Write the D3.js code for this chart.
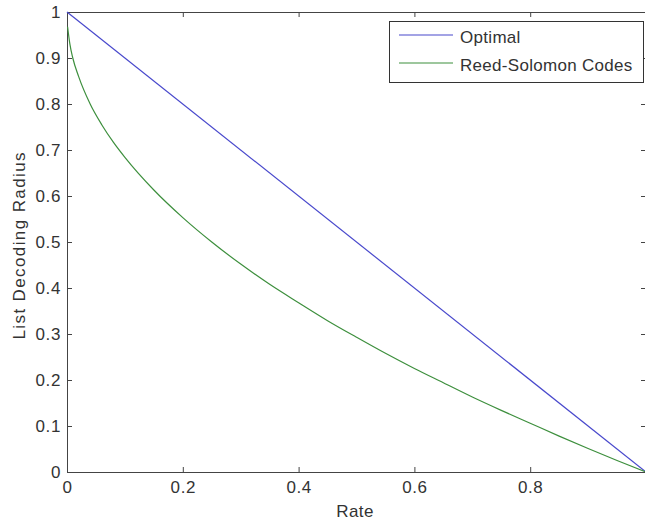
<!DOCTYPE html>
<html>
<head>
<meta charset="utf-8">
<script src="https://cdn.jsdelivr.net/npm/d3@7.9.0/dist/d3.min.js"></script>
<style>
  body { margin: 0; background: #fff; }
  svg { display: block; font-family: "Liberation Sans", Arial, sans-serif; }
</style>
</head>
<body>
<svg id="chart" width="645" height="521"></svg>
<script>
// --- data ---
const seriesNames = ['Optimal', 'Reed-Solomon Codes'];
const optimalRate = [0, 1];
const optimalRadius = [1, 0];
const rsRate = [0.001, 0.005, 0.01, 0.02, 0.04, 0.06, 0.08, 0.1, 0.15, 0.2, 0.25, 0.3, 0.35,
  0.4, 0.45, 0.5, 0.55, 0.6, 0.65, 0.7, 0.75, 0.8, 0.85, 0.9, 0.95, 1.0];
const rsRadius = [0.968, 0.93, 0.90, 0.86, 0.80, 0.755, 0.717, 0.684, 0.613, 0.553, 0.50, 0.452, 0.408,
  0.368, 0.329, 0.293, 0.258, 0.225, 0.194, 0.163, 0.134, 0.106, 0.078, 0.051, 0.025, 0];
const xTicks = [0, 0.2, 0.4, 0.6, 0.8];
const yTicks = [0, 0.1, 0.2, 0.3, 0.4, 0.5, 0.6, 0.7, 0.8, 0.9, 1];

const colors = ['#4848cc', '#3d8f3d'];
const margin = { left: 67, right: 646, top: 12, bottom: 472 };

const svg = d3.select('#chart');
const x = d3.scaleLinear().domain([0, 1]).range([margin.left, margin.right]);
const y = d3.scaleLinear().domain([0, 1]).range([margin.bottom, margin.top]);

// --- axes (MATLAB style, ticks inward, box on) ---
const tickLen = 5;
const axisColor = '#444';
const textColor = '#333';
const fontSize = 17;

function styleTicks(g) {
  g.select('.domain').attr('stroke', axisColor);
  g.selectAll('line').attr('stroke', axisColor);
  g.selectAll('text')
    .attr('font-size', fontSize)
    .attr('fill', textColor)
    .attr('letter-spacing', 0.6)
    .attr('font-family', '"Liberation Sans", Arial, sans-serif');
}

svg.append('g')
  .attr('transform', `translate(0,${margin.bottom})`)
  .call(d3.axisBottom(x).tickValues(xTicks).tickSizeInner(-tickLen).tickSizeOuter(0)
    .tickPadding(9).tickFormat(d3.format('')))
  .call(styleTicks);

svg.append('g')
  .attr('transform', `translate(${margin.left},0)`)
  .call(d3.axisLeft(y).tickValues(yTicks).tickSizeInner(-tickLen).tickSizeOuter(0)
    .tickPadding(6).tickFormat(d3.format('')))
  .call(styleTicks);

svg.append('g')
  .attr('transform', `translate(0,${margin.top})`)
  .call(d3.axisTop(x).tickValues(xTicks).tickSizeInner(-tickLen).tickSizeOuter(0).tickFormat(''))
  .call(styleTicks);

svg.append('g')
  .attr('transform', `translate(${margin.right},0)`)
  .call(d3.axisRight(y).tickValues(yTicks).tickSizeInner(-tickLen).tickSizeOuter(0).tickFormat(''))
  .call(styleTicks);

// --- axis titles ---
svg.append('text')
  .attr('x', 355)
  .attr('y', 517)
  .attr('text-anchor', 'middle')
  .attr('font-size', fontSize)
  .attr('letter-spacing', 0.4)
  .attr('fill', textColor)
  .text('Rate');

svg.append('text')
  .attr('transform', 'translate(25,246) rotate(-90)')
  .attr('text-anchor', 'middle')
  .attr('font-size', fontSize)
  .attr('fill', textColor)
  .attr('textLength', 187)
  .attr('lengthAdjust', 'spacing')
  .text('List Decoding Radius');

// --- lines ---
const optimal = optimalRate.map((r, i) => [r, optimalRadius[i]]);
const rs = rsRate.map((r, i) => [r, rsRadius[i]]);

const line = d3.line().x(d => x(d[0])).y(d => y(d[1])).curve(d3.curveMonotoneX);

svg.append('path')
  .datum(optimal)
  .attr('d', line)
  .attr('fill', 'none')
  .attr('stroke', colors[0])
  .attr('stroke-width', 1.2);

svg.append('path')
  .datum(rs)
  .attr('d', line)
  .attr('fill', 'none')
  .attr('stroke', colors[1])
  .attr('stroke-width', 1.2);

// --- legend ---
const legend = svg.append('g');
legend.append('rect')
  .attr('x', 389.5).attr('y', 21.5)
  .attr('width', 254).attr('height', 61)
  .attr('fill', '#fff')
  .attr('stroke', '#333');

seriesNames.forEach((name, i) => {
  const ly = 35 + i * 28;
  legend.append('line')
    .attr('x1', 399).attr('x2', 453)
    .attr('y1', ly).attr('y2', ly)
    .attr('stroke', colors[i])
    .attr('stroke-width', 1.2);
  legend.append('text')
    .attr('x', 460).attr('y', ly + 8)
    .attr('font-size', fontSize)
    .attr('letter-spacing', 0.3)
    .attr('fill', textColor)
    .text(name);
});
</script>
</body>
</html>
